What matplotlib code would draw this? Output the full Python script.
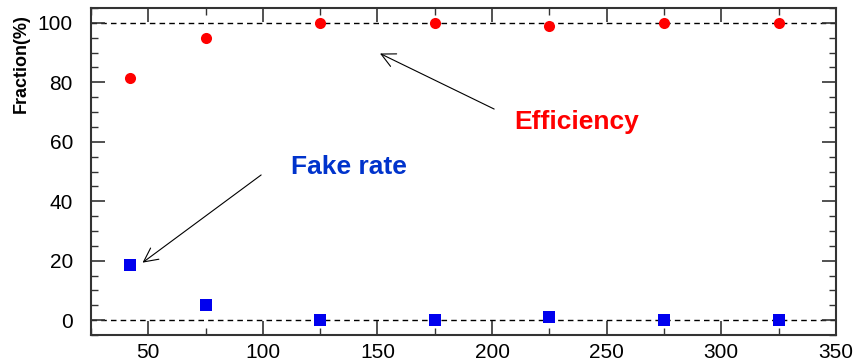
import matplotlib
matplotlib.use("Agg")
import matplotlib.pyplot as plt
from matplotlib.ticker import MultipleLocator

x_eff = [42, 75, 125, 175, 225, 275, 325]
efficiency = [81.5, 95, 100, 100, 99, 100, 100]
x_fake = [42, 75, 125, 175, 225, 275, 325]
fake_rate = [18.5, 5, 0, 0, 1.2, 0, 0]
x_ticks = [50, 100, 150, 200, 250, 300, 350]
y_ticks = [0, 20, 40, 60, 80, 100]

plt.rcParams['font.family'] = ['Liberation Sans', 'DejaVu Sans']
fig = plt.figure(figsize=(8.59, 3.63), dpi=100)
ax = fig.add_axes([0.106, 0.077, 0.867, 0.901])

ax.axhline(0, color='black', ls=(0, (4, 3)), lw=1.0, zorder=1)
ax.axhline(100, color='black', ls=(0, (4, 3)), lw=1.0, zorder=1)

ax.plot(x_eff, efficiency, 'o', color='#ff0000', markersize=8, markeredgewidth=0, zorder=3)
ax.plot(x_fake, fake_rate, 's', color='#0000ee', markersize=8.5, markeredgewidth=0, zorder=3)

ax.set_xlim(25, 350)
ax.set_ylim(-5, 105)
ax.set_xticks(x_ticks)
ax.set_yticks(y_ticks)
ax.xaxis.set_minor_locator(MultipleLocator(25))
ax.yaxis.set_minor_locator(MultipleLocator(5))
ax.tick_params(which='both', direction='in', top=True, right=True, color='#333333')
ax.tick_params(which='major', length=10, width=1.2, labelsize=15)
ax.tick_params(axis='y', which='major', pad=13)
ax.tick_params(axis='x', which='major', pad=6)
ax.tick_params(which='minor', length=5, width=1.0)
for s in ax.spines.values():
    s.set_linewidth(1.5)
    s.set_color('#333333')

fig.text(0.025, 0.824, 'Fraction(%)', rotation=90, ha='center', va='center',
         fontsize=13, fontweight='bold')

ax.text(237, 66.5, 'Efficiency', color='#ff0000', fontsize=19, fontweight='bold',
        ha='center', va='center')
ax.annotate('', xy=(150, 90.1), xytext=(202, 70.6),
            arrowprops=dict(arrowstyle='->', color='black', lw=0.8,
                            mutation_scale=25))
ax.text(137.5, 51.4, 'Fake rate', color='#0033cc', fontsize=19, fontweight='bold',
        ha='center', va='center')
ax.annotate('', xy=(46.5, 18.8), xytext=(100.2, 49.4),
            arrowprops=dict(arrowstyle='->', color='black', lw=0.8,
                            mutation_scale=25))

fig.savefig('out.png', dpi=100)
